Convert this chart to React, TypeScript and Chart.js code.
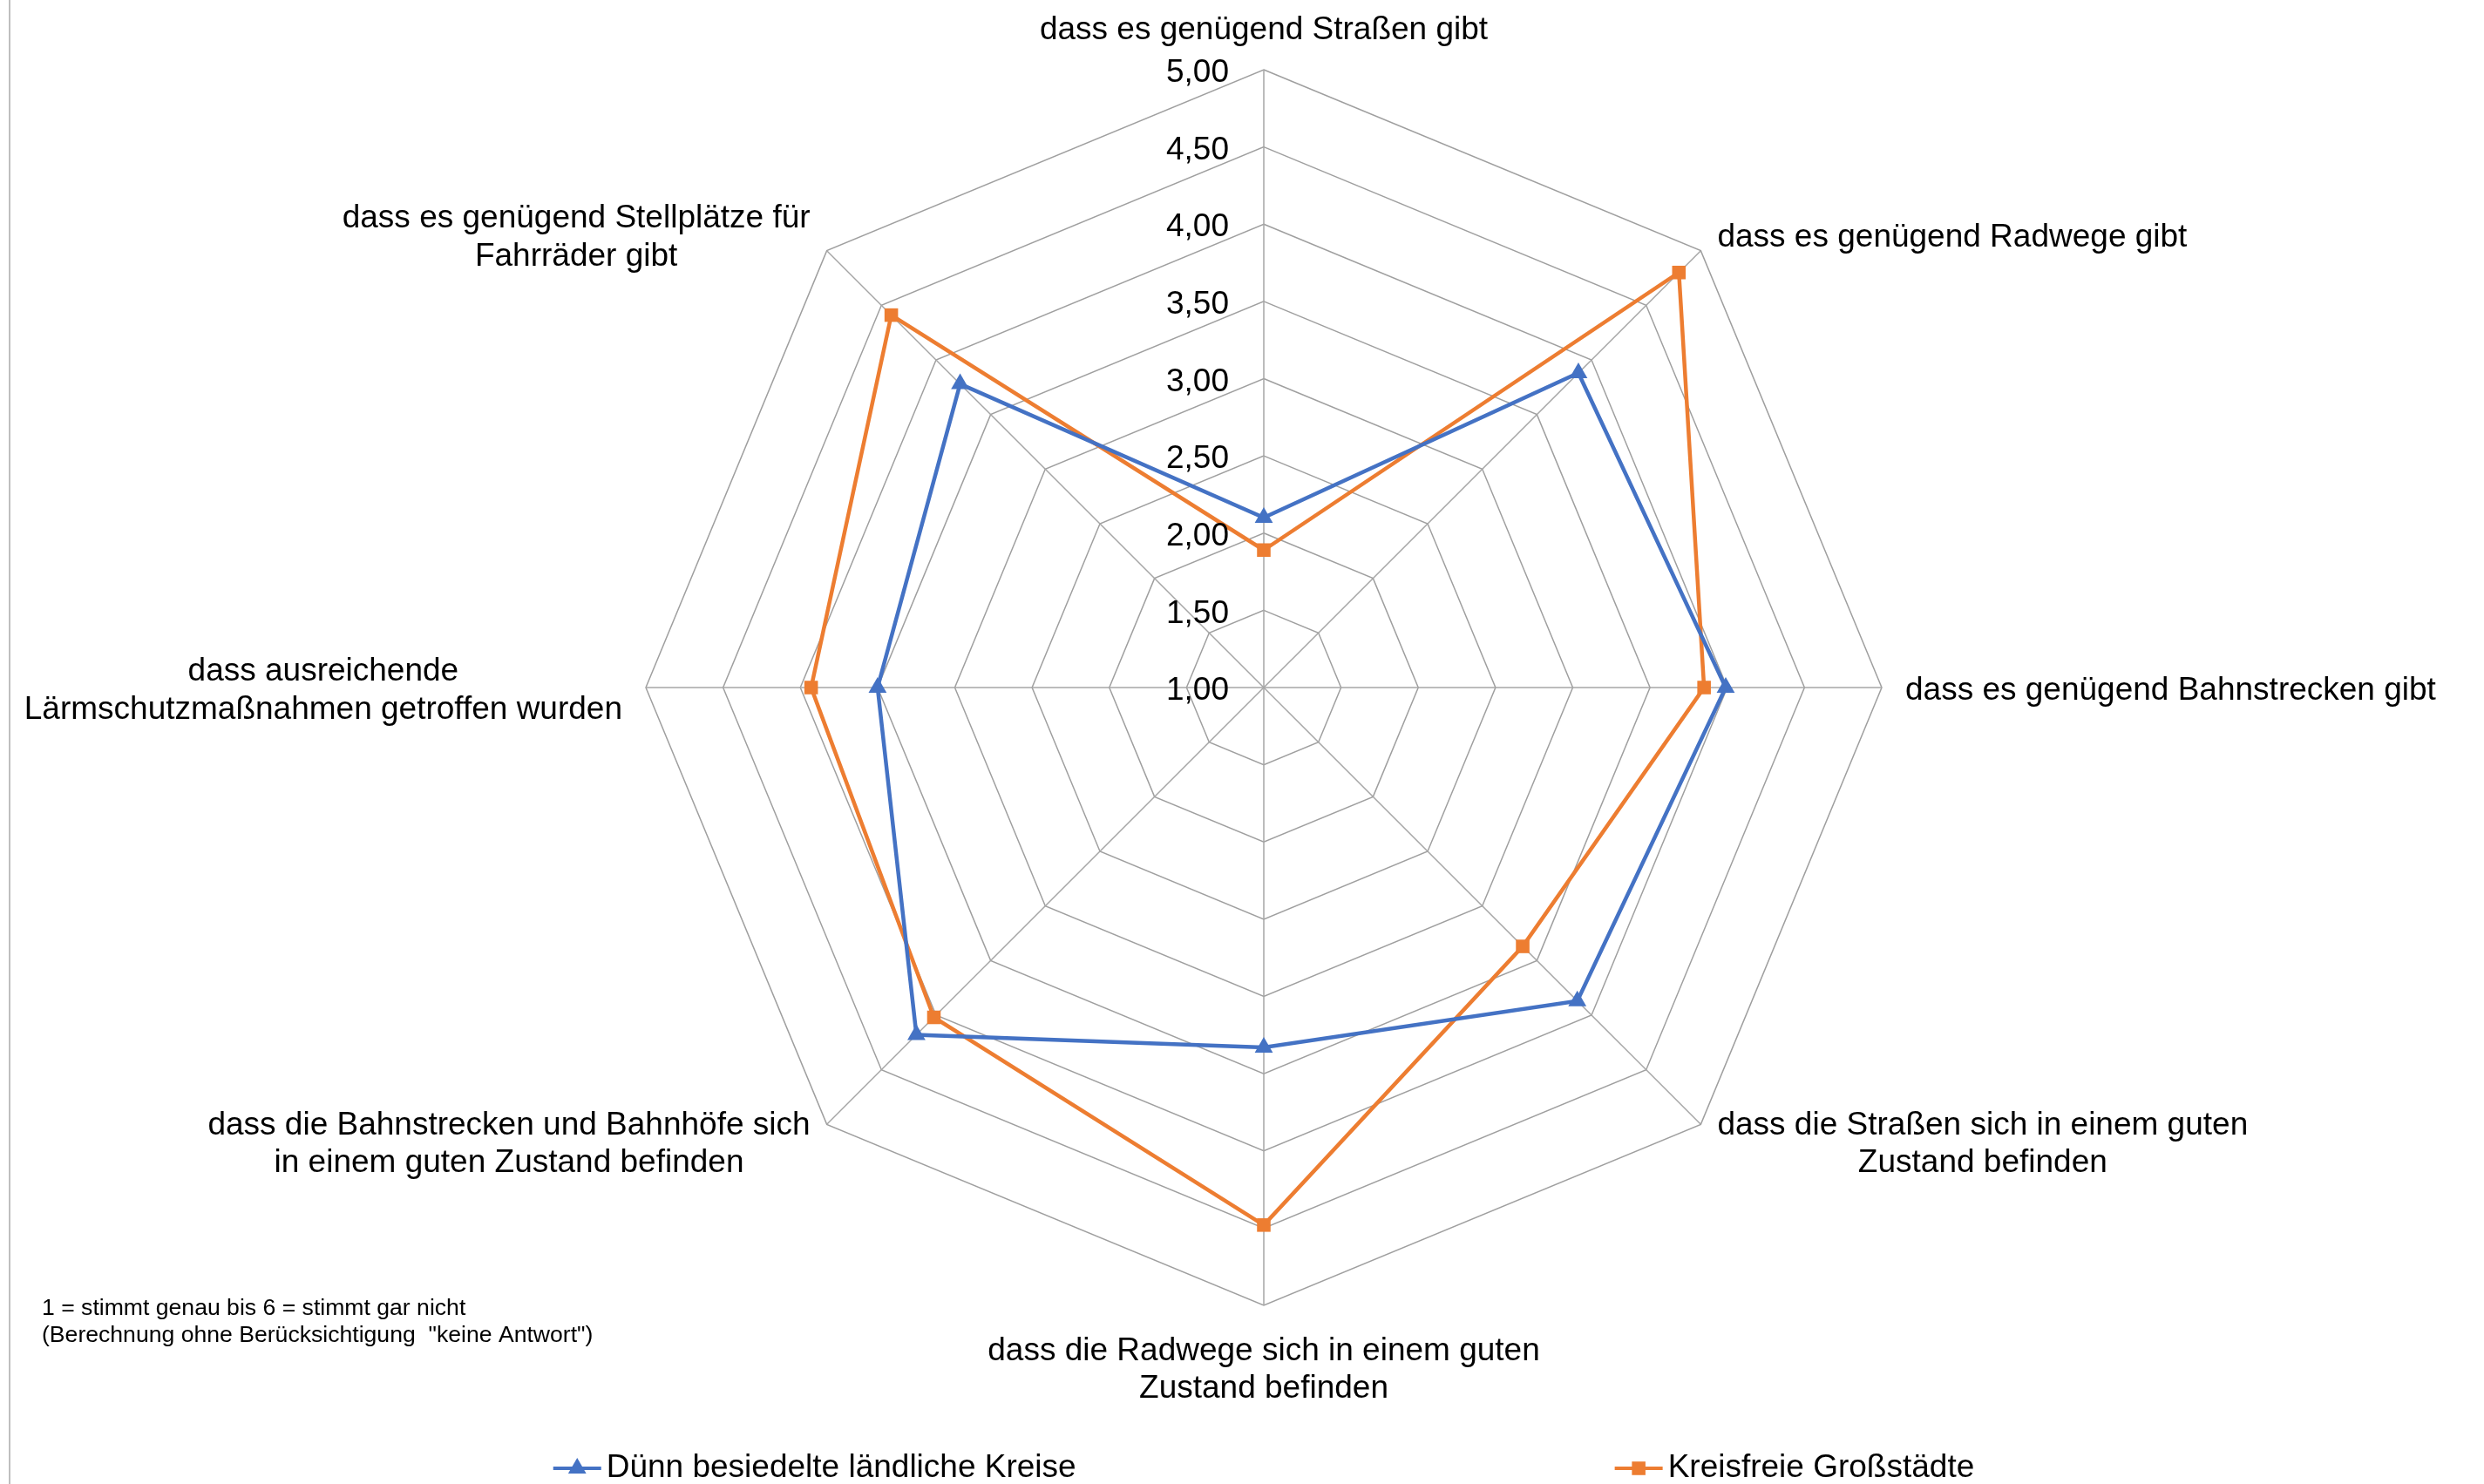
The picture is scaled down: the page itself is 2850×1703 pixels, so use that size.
import React, { useEffect, useRef } from 'react';
import { Chart, registerables } from 'chart.js';

Chart.register(...registerables);

const categories: string[][] = [
  ['dass es genügend Straßen gibt'],
  ['dass es genügend Radwege gibt'],
  ['dass es genügend Bahnstrecken gibt'],
  ['dass die Straßen sich in einem guten', 'Zustand befinden'],
  ['dass die Radwege sich in einem guten', 'Zustand befinden'],
  ['dass die Bahnstrecken und Bahnhöfe sich', 'in einem guten Zustand befinden'],
  ['dass ausreichende', 'Lärmschutzmaßnahmen getroffen wurden'],
  ['dass es genügend Stellplätze für', 'Fahrräder gibt'],
];

const seriesNames = ['Dünn besiedelte ländliche Kreise', 'Kreisfreie Großstädte'];
const ruralValues = [2.10, 3.88, 3.99, 3.87, 3.33, 4.18, 3.50, 3.78];
const cityValues = [1.89, 4.80, 3.85, 3.37, 4.48, 4.02, 3.93, 4.41];

const tickLabels = ['1,00', '1,50', '2,00', '2,50', '3,00', '3,50', '4,00', '4,50', '5,00'];
const scaleMin = 1;
const scaleMax = 5;
const scaleStep = 0.5;

const noteLines = [
  '1 = stimmt genau bis 6 = stimmt gar nicht',
  '(Berechnung ohne Berücksichtigung  "keine Antwort")',
];

const FONT = '"Liberation Sans", Arial, sans-serif';
const BLUE = '#4472C4';
const ORANGE = '#ED7D31';
const TEXT_DY = 4;

function drawMarker(ctx: CanvasRenderingContext2D, style: string, x: number, y: number, r: number) {
  ctx.beginPath();
  if (style === 'triangle') {
    let rad = 0;
    ctx.moveTo(x + Math.sin(rad) * r, y - Math.cos(rad) * r);
    rad += (2 * Math.PI) / 3;
    ctx.lineTo(x + Math.sin(rad) * r, y - Math.cos(rad) * r);
    rad += (2 * Math.PI) / 3;
    ctx.lineTo(x + Math.sin(rad) * r, y - Math.cos(rad) * r);
    ctx.closePath();
  } else {
    const s = Math.SQRT1_2 * r;
    ctx.rect(x - s, y - s, 2 * s, 2 * s);
  }
  ctx.fill();
}

const overlayPlugin = {
  id: 'overlay',
  beforeDraw(chart: any) {
    const ctx = chart.ctx as CanvasRenderingContext2D;
    ctx.save();
    ctx.strokeStyle = '#bfbfbf';
    ctx.lineWidth = 2;
    ctx.beginPath();
    ctx.moveTo(11, 0);
    ctx.lineTo(11, chart.height);
    ctx.stroke();
    ctx.restore();
  },
  afterDraw(chart: any) {
    const scale = chart.scales.r;
    const ctx = chart.ctx as CanvasRenderingContext2D;
    ctx.save();
    ctx.fillStyle = '#000';

    // tick labels
    ctx.font = `37px ${FONT}`;
    ctx.textAlign = 'right';
    ctx.textBaseline = 'middle';
    scale.ticks.forEach((t: any) => {
      const d = scale.getDistanceFromCenterForValue(t.value);
      ctx.fillText(t.label, scale.xCenter - 40, scale.yCenter - d + TEXT_DY);
    });

    // category labels
    const lh = 43.5;
    ctx.textAlign = 'center';
    categories.forEach((lines, i) => {
      const p = scale.getPointPosition(i, scale.drawingArea + 27);
      const cos = Math.cos(p.angle);
      const sin = Math.sin(p.angle);
      const maxW = Math.max(...lines.map((l) => ctx.measureText(l).width));
      const blockH = lines.length * lh;
      let cx = p.x;
      if (cos > 0.01) cx = p.x + maxW / 2;
      else if (cos < -0.01) cx = p.x - maxW / 2;
      let top = p.y - blockH / 2;
      if (sin < -0.99) top = p.y - blockH;
      else if (sin > 0.99) top = p.y;
      lines.forEach((l, k) => ctx.fillText(l, cx, top + lh * (k + 0.5) + TEXT_DY));
    });

    // note
    ctx.font = `26.6px ${FONT}`;
    ctx.textAlign = 'left';
    noteLines.forEach((l, k) => ctx.fillText(l, 48, 1502 + k * 31));

    // legend
    ctx.font = `37px ${FONT}`;
    const legendY = chart.height - 18;
    const markerW = 55;
    const textGap = 6;
    const itemGap = 618;
    const widths = seriesNames.map((s) => ctx.measureText(s).width);
    const total = widths.reduce((a, w) => a + w + markerW + textGap, 0) + itemGap;
    let x = scale.xCenter - total / 2;
    chart.data.datasets.forEach((ds: any, i: number) => {
      ctx.strokeStyle = ds.borderColor;
      ctx.lineWidth = 4;
      ctx.beginPath();
      ctx.moveTo(x, legendY);
      ctx.lineTo(x + markerW, legendY);
      ctx.stroke();
      ctx.fillStyle = ds.borderColor;
      drawMarker(ctx, ds.pointStyle, x + markerW / 2, legendY, ds.pointRadius);
      ctx.fillStyle = '#000';
      ctx.fillText(seriesNames[i], x + markerW + textGap, legendY);
      x += markerW + textGap + widths[i] + itemGap;
    });
    ctx.restore();
  },
};

export default function App() {
  const canvasRef = useRef<HTMLCanvasElement | null>(null);

  useEffect(() => {
    if (!canvasRef.current) return;
    const chart = new Chart(canvasRef.current, {
      type: 'radar',
      data: {
        labels: categories as any,
        datasets: [
          {
            label: seriesNames[0],
            data: ruralValues,
            borderColor: BLUE,
            backgroundColor: BLUE,
            borderWidth: 4.5,
            pointStyle: 'triangle',
            pointRadius: 12,
            pointBorderWidth: 0,
            pointBackgroundColor: BLUE,
            fill: false,
          },
          {
            label: seriesNames[1],
            data: cityValues,
            borderColor: ORANGE,
            backgroundColor: ORANGE,
            borderWidth: 4.5,
            pointStyle: 'rect',
            pointRadius: 11,
            pointBorderWidth: 0,
            pointBackgroundColor: ORANGE,
            fill: false,
          },
        ],
      },
      options: {
        responsive: false,
        animation: false,
        devicePixelRatio: 1,
        layout: { padding: { left: 741, right: 691, top: 80, bottom: 205 } },
        plugins: { legend: { display: false }, tooltip: { enabled: false } },
        elements: { line: { tension: 0 } },
        scales: {
          r: {
            min: scaleMin,
            max: scaleMax,
            ticks: {
              stepSize: scaleStep,
              display: false,
              callback: (_v: any, idx: number) => tickLabels[idx],
            },
            grid: { color: '#9f9f9f', lineWidth: 1.5 },
            angleLines: { color: '#a6a6a6', lineWidth: 1.5 },
            pointLabels: { display: false },
          },
        },
      },
      plugins: [overlayPlugin],
    });
    return () => chart.destroy();
  }, []);

  return (
    <div style={{ position: 'absolute', left: 0, top: 0, width: 2850, height: 1703, background: '#fff' }}>
      <canvas ref={canvasRef} width={2850} height={1703} style={{ display: 'block' }} />
    </div>
  );
}
